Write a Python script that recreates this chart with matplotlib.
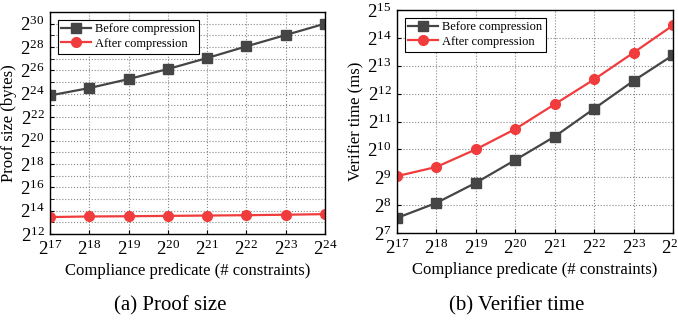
import numpy as np
import matplotlib.pyplot as plt

plt.rcParams['font.family'] = 'Liberation Serif'
plt.rcParams['mathtext.fontset'] = 'custom'
plt.rcParams['mathtext.rm'] = 'Liberation Serif'
plt.rcParams['mathtext.it'] = 'Liberation Serif:italic'

#### Data (exponents of 2) ####
constraints_exp = [17, 18, 19, 20, 21, 22, 23, 24]

proof_before = [23.86, 24.49, 25.26, 26.12, 27.06, 28.06, 29.03, 30.0]
proof_after = [13.45, 13.5, 13.52, 13.55, 13.58, 13.61, 13.65, 13.7]

verif_before = [7.54, 8.08, 8.8, 9.62, 10.46, 11.46, 12.46, 13.38]
verif_after = [9.04, 9.37, 10.0, 10.73, 11.62, 12.51, 13.47, 14.45]

GRAY = '#454545'
RED = '#f03c3c'


def draw(ax, before, after, ylo, yhi, ystep, ylabel):
    x = [2.0**e for e in constraints_exp]
    ax.plot(x, [2.0**v for v in before], color=GRAY, marker='s', ms=6.5,
            lw=1.6, label='Before compression')
    ax.plot(x, [2.0**v for v in after], color=RED, marker='o', ms=7,
            lw=1.6, label='After compression')
    ax.set_xscale('log', base=2)
    ax.set_yscale('log', base=2)
    ax.set_xlim(2.0**17, 2.0**24)
    ax.set_ylim(2.0**ylo, 2.0**yhi)
    ax.set_xticks(x)
    ax.set_xticklabels(['$2^{%d}$' % e for e in constraints_exp])
    ymaj = list(range(ylo, yhi + 1, ystep))
    ax.set_yticks([2.0**e for e in ymaj])
    ax.set_yticklabels(['$2^{%d}$' % e for e in ymaj])
    ax.set_yticks([2.0**e for e in range(ylo, yhi + 1)], minor=True)
    ax.set_xticks([], minor=True)
    ax.yaxis.set_minor_formatter(plt.NullFormatter())
    ax.grid(True, which='both', ls=':', color='#888888', lw=0.8)
    ax.tick_params(which='both', direction='in', labelsize=13.5, length=3,
                   pad=4)
    for s in ax.spines.values():
        s.set_linewidth(1.0)
    ax.set_xlabel('Compliance predicate (# constraints)', fontsize=12,
                  labelpad=3)
    ax.set_ylabel(ylabel, fontsize=12, labelpad=2)
    leg = ax.legend(loc='upper left', fontsize=9, fancybox=False,
                    edgecolor='black', framealpha=1, borderpad=0.3,
                    handlelength=2.4, handletextpad=0.3, labelspacing=0.2,
                    borderaxespad=0.6)
    leg.get_frame().set_linewidth(0.8)


fig = plt.figure(figsize=(6.78, 3.22), dpi=100)
ax1 = fig.add_axes([50 / 678, 1 - 234 / 322, 275 / 678, 222 / 322])
ax2 = fig.add_axes([397 / 678, 1 - 233 / 322, 276 / 678, 223 / 322])

draw(ax1, proof_before, proof_after, 12, 31, 2, 'Proof size (bytes)')
ax1.set_yticks([2.0**e for e in range(12, 31, 2)])
ax1.set_yticklabels(['$2^{%d}$' % e for e in range(12, 31, 2)])
draw(ax2, verif_before, verif_after, 7, 15, 1, 'Verifier time (ms)')

fig.text(170 / 678, 1 - 306 / 322, '(a) Proof size', ha='center',
         va='center', fontsize=15)
fig.text(517 / 678, 1 - 306 / 322, '(b) Verifier time', ha='center',
         va='center', fontsize=15)

fig.savefig('out.png', dpi=100)
